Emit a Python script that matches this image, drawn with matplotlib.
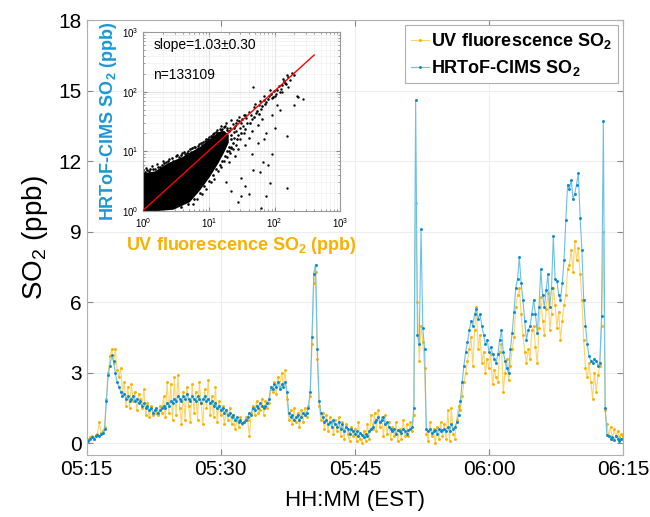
import numpy as np
import matplotlib
matplotlib.use("Agg")
import matplotlib.pyplot as plt
from matplotlib.ticker import NullFormatter

plt.rcParams['font.family'] = ['Liberation Sans', 'DejaVu Sans']
plt.rcParams['mathtext.default'] = 'regular'

# ---- time series (minutes after 05:15, 0.2 min steps) ----
t_min = np.arange(0, 60.01, 0.2)

cims_so2 = [
    0.15, 0.1, 0.2, 0.25, 0.2, 0.3, 0.35, 0.3, 0.4, 0.45,
    0.6, 1.8, 2.9, 3.3, 3.75, 3.5, 3.0, 2.6, 2.4, 2.2,
    2.0, 2.1, 1.9, 2.0, 1.8, 1.9, 2.0, 1.8, 1.9, 1.7,
    1.8, 1.6, 1.7, 1.5, 1.6, 1.4, 1.5, 1.3, 1.4, 1.5,
    1.3, 1.4, 1.5, 1.6, 1.5, 1.7, 1.6, 1.8, 1.7, 1.9,
    1.8, 2.0, 1.9, 1.8, 2.0, 1.9, 2.1, 1.9, 1.8, 2.0,
    1.9, 1.8, 2.0, 1.9, 1.7, 1.9, 2.0, 1.8, 1.9, 1.7,
    1.8, 1.6, 1.7, 1.5, 1.6, 1.4, 1.5, 1.3, 1.4, 1.2,
    1.3, 1.1, 1.2, 1.0, 1.1, 0.9, 1.0, 0.85, 0.9, 1.0,
    1.1, 1.3, 1.2, 1.5, 1.4, 1.6, 1.5, 1.7, 1.6, 1.5,
    1.6, 1.7, 1.9, 2.4, 2.3, 2.5, 2.4, 2.6, 2.3, 2.5,
    2.4, 2.6, 2.2, 1.3, 1.1, 1.2, 1.0, 1.1, 1.2, 1.0,
    1.1, 1.3, 1.2, 1.3, 1.5, 2.2, 4.5, 7.2, 7.6, 4.0,
    1.8, 1.3, 1.1, 0.9, 1.0, 0.8, 0.9, 0.7, 1.0, 0.8,
    0.7, 0.9, 0.6, 0.8, 0.5, 0.7, 0.6, 0.4, 0.6, 0.5,
    0.4, 0.5, 0.3, 0.45, 0.35, 0.25, 0.4, 0.3, 0.5, 0.6,
    0.7, 0.9, 1.0, 1.1, 0.9, 1.0, 1.1, 0.8, 0.9, 0.7,
    0.6, 0.5, 0.6, 0.4, 0.55, 0.5, 0.45, 0.6, 0.5, 0.4,
    0.55, 0.6, 0.7, 1.5, 14.6, 4.6, 4.2, 9.1, 4.9, 4.0,
    0.6, 0.5, 0.6, 0.45, 0.5, 0.55, 0.4, 0.6, 0.5, 0.55,
    0.6, 0.5, 0.7, 0.5, 0.8, 0.6, 0.7, 0.9, 1.2, 1.8,
    2.6, 3.3, 3.9, 4.3, 4.8, 5.2, 5.0, 5.5, 5.7, 5.3,
    5.5, 5.0, 4.6, 4.2, 4.4, 3.9, 4.1, 3.8, 3.6, 3.4,
    3.8, 4.4, 4.8, 3.9, 3.5, 3.2, 3.0, 4.0, 4.7, 5.6,
    6.6, 7.0, 7.9, 6.8, 6.1, 5.2, 4.4, 4.8, 5.0, 5.5,
    6.1, 5.5, 4.7, 5.8, 7.4, 6.3, 5.8, 6.5, 7.2, 5.8,
    6.6, 8.8, 7.0, 6.9, 6.3, 6.1, 6.8, 7.8, 9.5, 11.0,
    10.8, 11.2, 10.4, 10.6, 11.0, 11.5, 9.6, 8.2, 6.1, 5.0,
    4.2, 3.7, 3.5, 3.4, 3.6, 3.5, 3.3, 3.4, 5.4, 13.7,
    1.5, 0.35, 0.3, 0.2, 0.25, 0.15, 0.3, 0.2, 0.1, 0.2,
    0.2,
]

uv_so2 = [
    0.2, 0.15, 0.25, 0.3, 0.2, 0.35, 0.4, 0.9, 0.45, 0.5,
    0.7, 1.9, 3.0, 3.7, 4.0, 3.4, 4.0, 3.1, 2.8, 3.2,
    2.2, 2.6, 1.6, 2.4, 1.5, 2.5, 1.8, 2.2, 1.4, 2.1,
    1.9, 1.5, 2.3, 1.2, 1.7, 1.1, 1.6, 1.2, 1.4, 1.3,
    1.2, 1.6, 1.3, 2.0, 1.1, 2.6, 1.3, 2.5, 1.0, 2.8,
    1.2, 2.9, 1.5, 0.8, 2.2, 1.0, 2.4, 1.6, 0.9, 2.5,
    1.3, 2.2, 1.0, 2.6, 1.7, 0.8, 2.3, 1.5, 2.7, 1.2,
    2.0, 1.1, 2.4, 0.9, 1.8, 1.2, 1.6, 0.8, 1.4, 1.0,
    1.5, 0.8, 1.2, 0.6, 1.0, 0.7, 1.1, 0.8, 0.9, 1.1,
    1.0, 0.3, 1.3, 1.6, 1.2, 1.8, 1.3, 1.4, 1.9, 1.2,
    1.8, 1.5, 1.7, 2.3, 2.2, 2.6, 2.1, 2.8, 2.4, 3.0,
    2.5, 3.1, 1.9, 1.0, 1.4, 0.8, 1.5, 0.9, 1.3, 0.7,
    1.4, 0.9, 1.5, 1.1, 1.6, 2.0, 4.2, 6.8, 7.3, 3.6,
    1.6, 1.0, 1.3, 0.6, 1.2, 0.5, 1.1, 0.9, 0.4, 1.0,
    0.5, 1.1, 0.3, 0.9, 0.2, 0.8, 0.4, 0.1, 0.7, 0.3,
    0.6, 0.1, 0.9, 0.2, 0.0, 0.5, 0.1, 0.8, 0.2, 1.2,
    0.6, 1.3, 0.5, 1.4, 0.7, 1.1, 0.3, 1.2, 0.4, 0.9,
    0.2, 0.7, 0.3, 0.9, 0.1, 0.6, 0.2, 1.0, 0.3, 0.8,
    0.3, 0.9, 0.5, 1.2, 10.2, 6.0, 3.5, 5.0, 4.3, 3.2,
    0.4, 0.1, 0.9, 0.3, 0.6, 0.0, 0.7, 0.2, 0.9, 0.3,
    0.8, 0.2, 1.4, 0.1, 1.5, 0.4, 0.2, 1.0, 1.6, 1.4,
    2.0, 2.6, 3.0, 3.5, 4.0, 4.5, 3.3, 4.8, 5.8, 4.0,
    4.6, 3.4, 3.9, 3.0, 3.6, 3.2, 3.8, 2.5, 3.1, 2.8,
    2.6, 3.9, 4.2, 2.2, 3.0, 3.6, 2.7, 3.3, 4.0, 4.5,
    5.8, 6.3, 6.6, 5.5, 4.6, 3.9, 3.4, 4.0, 3.6, 4.8,
    5.0, 4.1, 3.4, 4.9, 6.2, 5.2, 4.6, 5.7, 6.4, 4.8,
    5.5, 6.6, 5.9, 4.9, 5.6, 4.4, 5.2, 5.9, 6.3, 7.4,
    7.6, 8.2, 7.3, 8.6, 7.8, 8.3, 7.2, 6.1, 4.4, 3.2,
    2.8, 3.4, 2.6, 1.9, 3.0, 2.2, 2.9, 3.3, 5.0, 9.0,
    1.4, 0.8, 0.3, 0.7, 0.2, 0.6, 0.3, 0.5, 0.25, 0.4,
    0.3,
]

x_ticks = [0, 15, 30, 45, 60]
x_ticklabels = ['05:15', '05:30', '05:45', '06:00', '06:15']
y_ticks = [0, 3, 6, 9, 12, 15, 18]

# ---- inset scatter (ppb) ----
# outline of the dense core of the cloud
core_uv = [1, 1.7, 2.9, 5.1, 7.3, 10.3, 13.8, 17, 20, 20, 17, 14, 10.3, 7.3, 4.0, 2.3, 1.5, 1.0]
core_cims = [1, 1.0, 1.05, 1.4, 2.2, 3.7, 6.2, 9.5, 14, 19, 22, 21, 16, 11.8, 8.1, 6.2, 4.6, 4.3]

# points along the edge of the core
edge_uv = [
    1.05, 1.15, 1.25, 1.4, 1.7, 1.9, 2.1, 2.4, 2.7, 3.3, 3.7, 4.1, 4.6, 5.1, 5.6,
    6.2, 6.9, 7.5, 8.2, 9.0, 9.8, 10.6, 11.6, 12.6, 13.8, 15.2, 16.8, 18.5, 20.5, 22,
    21.5, 23, 22, 20.5, 18.5, 17.5, 16, 14.5, 13, 11.5, 10, 8.5, 7.2, 6, 4.8,
    3.8, 24, 26, 29, 32, 36, 27, 31, 36, 42, 48, 53, 58, 64, 72,
    78, 88, 95, 110, 130, 145,
]
edge_cims = [
    4.5, 4.9, 5.1, 5.0, 5.5, 6.0, 6.3, 6.9, 7.6, 8.6, 8.7, 9.6, 9.5, 10.8, 11.2,
    12.0, 12.4, 13.8, 14.2, 16.0, 16.3, 18.2, 19.4, 21.0, 20.3, 22.5, 25.5, 22.8, 21.5, 19,
    16, 14, 11.5, 12, 10, 8.2, 7, 5.8, 5, 4.0, 3.2, 2.6, 2.0, 1.6, 1.3,
    1.15, 25, 30, 32, 35, 40, 16, 20, 24, 30, 38, 48, 42, 58, 62,
    74, 90, 82, 105, 128, 140,
]

# looser points further from the core
fringe_uv = [
    1.0, 1.1, 1.2, 1.35, 1.5, 1.6, 1.8, 2.0, 2.2, 2.5, 2.8, 3.1, 3.5, 3.9, 4.3,
    4.8, 5.4, 5.9, 6.5, 7.1, 7.8, 8.6, 9.3, 10.0, 11.2, 12.0, 13.2, 14.6, 16.0, 17.5,
    19, 21, 23, 25, 18, 15, 27, 22, 29, 31, 34, 26, 37, 33, 40,
    44, 48, 52, 57, 62, 68, 74, 82, 90, 98, 105, 115, 125, 140, 150,
    162, 172, 185, 195, 155, 135, 120, 100, 85, 70, 60, 50, 45, 38, 30,
    28, 24, 22, 20, 18, 16, 24, 5.8, 6.5, 7.9, 9, 10.8, 12, 13.5, 15.5,
    17, 19, 21, 23, 26, 30, 34, 20, 25, 28, 35, 40, 45, 55, 65,
]
fringe_cims = [
    4.8, 5.3, 4.7, 5.6, 5.0, 6.1, 5.4, 6.8, 6.6, 7.5, 7.0, 8.3, 8.0, 9.4, 8.9,
    10.2, 9.8, 11.8, 11.0, 13.2, 12.9, 14.8, 15.1, 17.6, 17.9, 20.5, 22.6, 24.0, 23.5, 26.8,
    25, 24.5, 29, 27, 30, 27, 34, 33, 38, 30, 41, 22, 36, 27, 45,
    40, 55, 44, 60, 52, 72, 66, 85, 78, 104, 92, 125, 112, 150, 135,
    175, 158, 205, 188, 190, 165, 100, 85, 105, 85, 70, 62, 35, 30, 25,
    19, 17, 12, 10, 15, 12, 21, 1.3, 1.6, 1.9, 2.3, 3.0, 3.4, 4.6, 5.5,
    6.8, 8.0, 9.5, 11, 13, 16, 20, 6.5, 8.5, 11, 13, 17, 22, 28, 35,
]

# isolated points far from the 1:1 line
outlier_uv = [270, 155, 155, 62, 84, 31, 31, 75, 47, 67, 47, 40, 28, 60, 80, 90, 70,
              100, 120, 220, 230, 200, 130, 90, 35, 22, 18, 45, 55, 75, 110, 160]
outlier_cims = [75, 18, 2.4, 1.1, 2.95, 1.8, 3.6, 1.8, 120, 6.6, 4.8, 1.9, 1.4, 4.5, 6, 9, 16,
                25, 50, 85, 80, 60, 100, 40, 2.6, 2.2, 3.0, 9, 14, 20, 60, 120]

fit_slope = 1.03
fit_uv = np.array([1, 400])

blue = '#0a8acb'
blue_light = '#6cc0e6'
orange = '#f7b100'
orange_light = '#fbd46c'

fig = plt.figure(figsize=(6.5, 5.17), dpi=100)
ax = fig.add_axes([0.1334, 0.1199, 0.8251, 0.8414])

ax.plot(t_min, uv_so2, '-', color=orange_light, lw=0.8, marker='.', ms=2.2,
        mfc=orange, mec=orange, label='UV fluorescence SO$_2$')
ax.plot(t_min, cims_so2, '-', color=blue_light, lw=0.8, marker='.', ms=2.2,
        mfc=blue, mec=blue, label='HRToF-CIMS SO$_2$')

ax.set_xlim(0, 60)
ax.set_ylim(-0.5, 18)
ax.set_xticks(x_ticks)
ax.set_xticklabels(x_ticklabels)
ax.set_yticks(y_ticks)
ax.tick_params(direction='in', top=True, right=True, labelsize=15, length=4,
               color='#888888')
for s in ax.spines.values():
    s.set_color('#b0b0b0')
ax.grid(True, color='#ededed', lw=0.8)
ax.set_axisbelow(True)
ax.set_xlabel('HH:MM (EST)', fontsize=16, labelpad=8)
ax.set_ylabel('SO$_2$ (ppb)', fontsize=20, labelpad=6)

leg = ax.legend(loc='upper right', prop={'size': 13, 'weight': 'bold'},
                fancybox=False, edgecolor='#b0b0b0', framealpha=1,
                handlelength=1.0, handletextpad=0.15, borderaxespad=0.3,
                labelspacing=0.4, borderpad=0.3)
leg.get_frame().set_linewidth(0.8)

# ---- inset ----
ins = fig.add_axes([0.2205, 0.592, 0.303, 0.346])
ins.fill(core_uv, core_cims, color='black', lw=0, zorder=2)
ins.plot(edge_uv, edge_cims, '.', color='black', ms=1.8, zorder=2)
ins.plot(fringe_uv, fringe_cims, '.', color='black', ms=1.6, zorder=2)
ins.plot(outlier_uv, outlier_cims, '.', color='black', ms=1.4, zorder=2)
ins.plot(fit_uv, fit_slope * fit_uv, color='red', lw=1, zorder=3)
ins.set_xscale('log')
ins.set_yscale('log')
ins.set_xlim(1, 1000)
ins.set_ylim(1, 1000)
ins.xaxis.set_minor_formatter(NullFormatter())
ins.yaxis.set_minor_formatter(NullFormatter())
ins.tick_params(which='both', direction='in', top=True, right=True, labelsize=7,
                color='#888888')
ins.tick_params(which='major', length=3)
ins.tick_params(which='minor', length=1.5)
ins.grid(True, which='major', color='#dcdcdc', lw=0.6)
ins.grid(True, which='minor', color='#ececec', lw=0.4)
ins.set_axisbelow(True)
for s in ins.spines.values():
    s.set_color('#9a9a9a')
ins.set_xlabel('UV fluorescence SO$_2$ (ppb)', fontsize=13, fontweight='bold',
               color=orange, labelpad=4)
ins.set_ylabel('HRToF-CIMS SO$_2$ (ppb)', fontsize=13, fontweight='bold',
               color='#1a98d5', labelpad=2)
ins.text(0.05, 0.93, 'slope=1.03\u00b10.30', transform=ins.transAxes,
         fontsize=10, va='center')
ins.text(0.05, 0.76, 'n=133109', transform=ins.transAxes, fontsize=10, va='center')

fig.savefig('out.png', dpi=100)
